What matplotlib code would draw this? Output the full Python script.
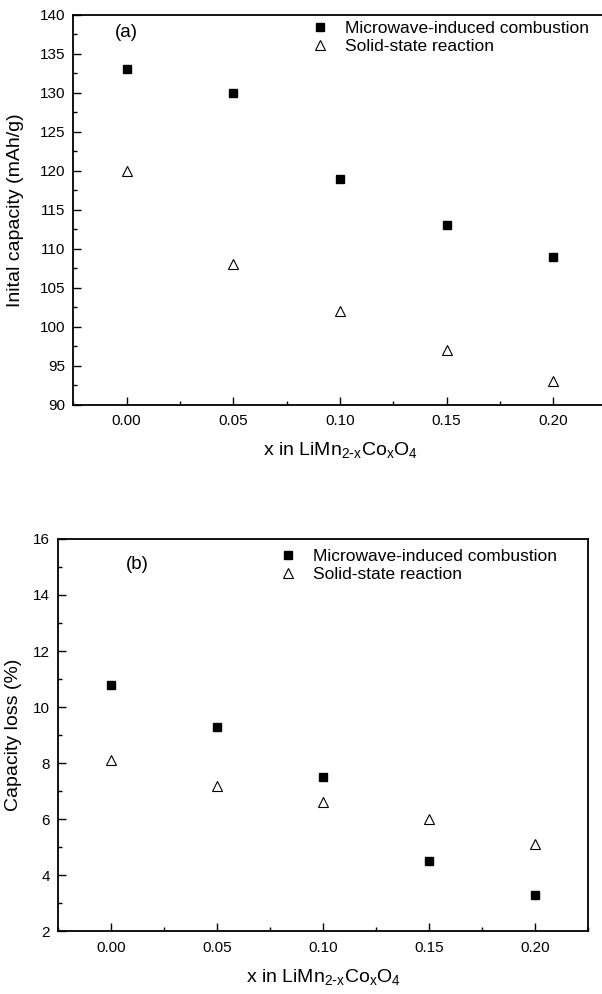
import numpy as np
import matplotlib
matplotlib.use('Agg')
import matplotlib.pyplot as plt
from matplotlib.ticker import MultipleLocator

plt.rcParams['font.family'] = ['Liberation Sans', 'DejaVu Sans']
plt.rcParams['mathtext.default'] = 'regular'

# Co content in LiMn(2-x)Co(x)O4
x = [0.00, 0.05, 0.10, 0.15, 0.20]

# (a) initial discharge capacity, mAh/g
cap_mw = [133, 130, 119, 113, 109]
cap_ss = [120, 108, 102, 97, 93]

# (b) capacity loss, %
loss_mw = [10.8, 9.3, 7.5, 4.5, 3.3]
loss_ss = [8.1, 7.2, 6.6, 6.0, 5.1]

lbl_mw = 'Microwave-induced combustion'
lbl_ss = 'Solid-state reaction'
xlabel = r'x in LiMn$_{2\text{-}x}$Co$_x$O$_4$'

fig = plt.figure(figsize=(6.02, 9.94), dpi=100)
ax1 = fig.add_axes([0.1218, 0.5929, 0.886, 0.3921])
ax2 = fig.add_axes([0.0963, 0.0631, 0.8804, 0.3947])


def style_axes(ax):
    for s in ax.spines.values():
        s.set_linewidth(1.3)
    ax.tick_params(which='both', direction='in', top=False, right=False,
                   labelsize=11, width=1.0)
    ax.tick_params(which='major', length=6)
    ax.tick_params(which='minor', length=3)
    ax.tick_params(axis='x', pad=7)
    ax.tick_params(axis='y', pad=6)
    ax.set_xlim(-0.025, 0.225)
    ax.xaxis.set_major_locator(MultipleLocator(0.05))
    ax.xaxis.set_minor_locator(MultipleLocator(0.025))
    ax.xaxis.set_major_formatter(matplotlib.ticker.FormatStrFormatter('%.2f'))


def draw(ax, y_mw, y_ss):
    ax.plot(x, y_mw, 's', color='black', markersize=6, label=lbl_mw)
    ax.plot(x, y_ss, '^', color='black', markerfacecolor='none',
            markeredgewidth=0.8, markersize=7.5, label=lbl_ss)


# panel (a)
draw(ax1, cap_mw, cap_ss)
style_axes(ax1)
ax1.set_ylim(90, 140)
ax1.yaxis.set_major_locator(MultipleLocator(5))
ax1.yaxis.set_minor_locator(MultipleLocator(2.5))
ax1.set_ylabel('Inital capacity (mAh/g)', fontsize=14)
ax1.yaxis.set_label_coords(-0.092, 0.5)
ax1.set_xlabel(xlabel, fontsize=14)
ax1.xaxis.set_label_coords(0.5, -0.09)
ax1.text(0.078, 0.954, '(a)', transform=ax1.transAxes, fontsize=13.5,
         ha='left', va='center')
ax1.legend(loc='upper left', bbox_to_anchor=(0.446, 0.985), frameon=False,
           fontsize=12.5, handlelength=1.0, handletextpad=0.94,
           labelspacing=0.15, borderpad=0, borderaxespad=0)

# panel (b)
draw(ax2, loss_mw, loss_ss)
style_axes(ax2)
ax2.set_ylim(2, 16)
ax2.yaxis.set_major_locator(MultipleLocator(2))
ax2.yaxis.set_minor_locator(MultipleLocator(1))
ax2.set_ylabel('Capacity loss (%)', fontsize=14)
ax2.yaxis.set_label_coords(-0.068, 0.5)
ax2.set_xlabel(xlabel, fontsize=14)
ax2.xaxis.set_label_coords(0.5, -0.09)
ax2.text(0.128, 0.934, '(b)', transform=ax2.transAxes, fontsize=13.5,
         ha='left', va='center')
ax2.legend(loc='upper left', bbox_to_anchor=(0.418, 0.975), frameon=False,
           fontsize=12.5, handlelength=1.0, handletextpad=0.94,
           labelspacing=0.15, borderpad=0, borderaxespad=0)

fig.savefig('out.png', dpi=100)
plt.close(fig)
